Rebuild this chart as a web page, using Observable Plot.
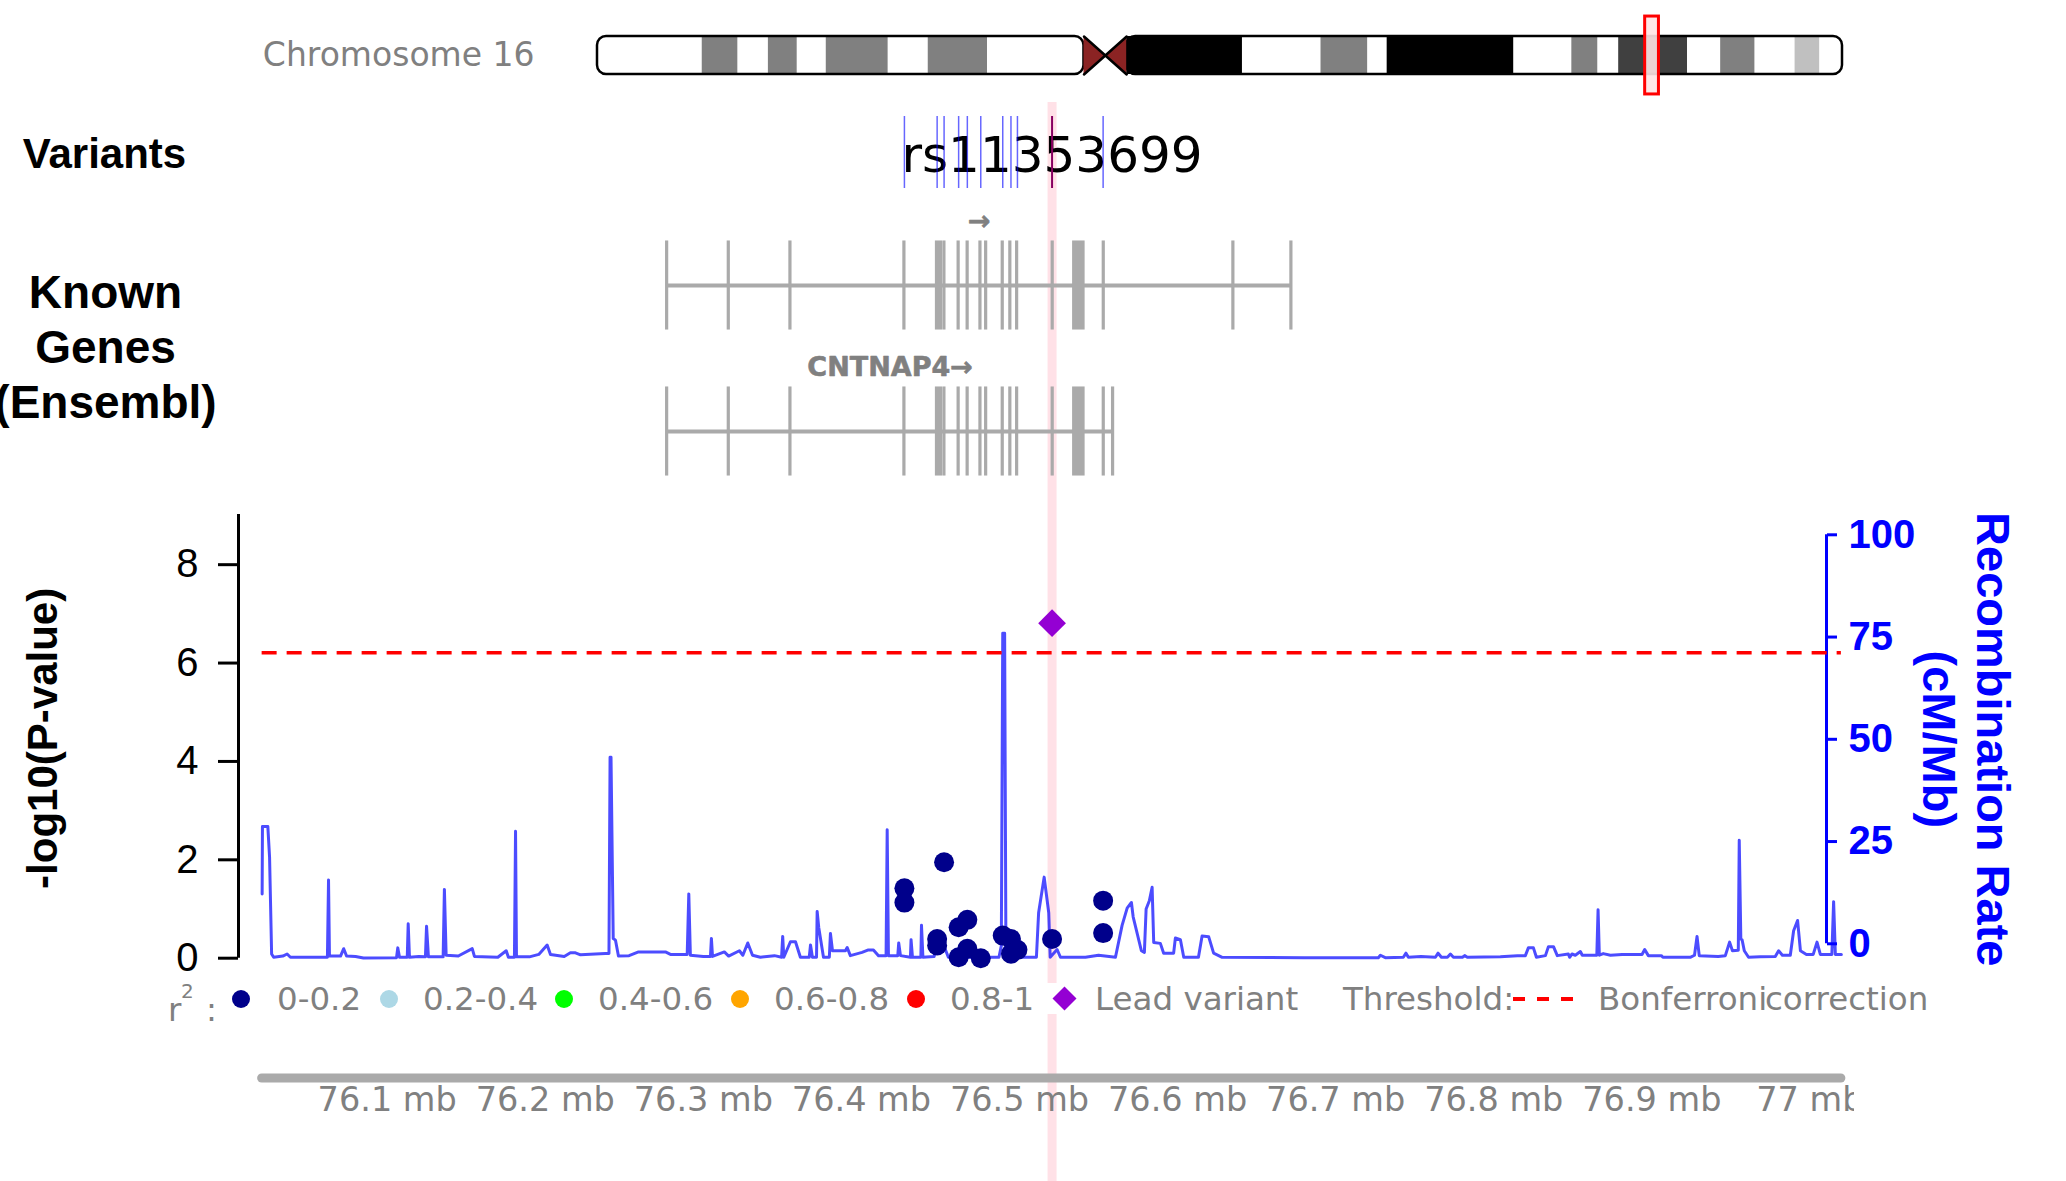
<!DOCTYPE html>
<html><head><meta charset="utf-8">
<script src="https://cdn.jsdelivr.net/npm/d3@7"></script>
<script src="https://cdn.jsdelivr.net/npm/@observablehq/plot@0.6"></script>
<style>
html,body{margin:0;padding:0;background:#fff;}
#root{position:relative;width:2066px;height:1181px;overflow:hidden;background:#fff;}
#root svg{position:absolute;left:0;top:0;}
.lg{position:absolute;font-family:"DejaVu Sans",sans-serif;font-size:32.5px;color:#808080;white-space:nowrap;line-height:32px;height:32px;top:983px;}
</style></head><body><div id="root"></div>
<script>
// ---------------- data ----------------
const chromName = "Chromosome 16";
const chromLength = 90.34;
const bandStart = [0, 7.6, 10.2, 12.4, 14.5, 16.6, 21.1, 24.0, 28.3, 35.3, 36.9, 38.4, 46.8, 52.5, 55.9, 57.3, 66.5, 70.7, 72.6, 74.1, 79.1, 81.5, 84.0, 86.9, 88.7];
const bandEnd   = [7.6, 10.2, 12.4, 14.5, 16.6, 21.1, 24.0, 28.3, 35.3, 36.9, 38.4, 46.8, 52.5, 55.9, 57.3, 66.5, 70.7, 72.6, 74.1, 79.1, 81.5, 84.0, 86.9, 88.7, 90.34];
const bandStain = ["gneg","gpos50","gneg","gpos50","gneg","gpos50","gneg","gpos50","gneg","acen","acen","gvar","gneg","gpos50","gneg","gpos100","gneg","gpos50","gneg","gpos75","gneg","gpos50","gneg","gpos25","gneg"];

const leadVariant = "rs11353699";
const leadPos = 76.5206;
const leadLogP = 6.81;
const snpPos  = [76.4272, 76.4272, 76.4523, 76.4670, 76.4615, 76.4479, 76.4479, 76.4670, 76.4615, 76.4755, 76.4894, 76.4946, 76.4987, 76.4946, 76.5206, 76.5529, 76.5529];
const snpLogP = [1.42, 1.13, 1.95, 0.78, 0.63, 0.39, 0.26, 0.19, 0.02, 0.0, 0.46, 0.39, 0.17, 0.09, 0.39, 1.17, 0.51];
const snpR2Bin = [0,0,0,0,0,0,0,0,0,0,0,0,0,0,0,0,0];
const bonferroni = 6.21;

const recombPos = [76.0209,76.0211,76.0245,76.0256,76.0269,76.0282,76.0340,76.0367,76.0388,76.0622,76.0629,76.0635,76.0705,76.0725,76.0743,76.0800,76.0850,76.1059,76.1067,76.1078,76.1127,76.1133,76.1141,76.1200,76.1242,76.1249,76.1261,76.1354,76.1362,76.1373,76.1450,76.1538,76.1552,76.1700,76.1753,76.1767,76.1805,76.1812,76.1818,76.1900,76.1959,76.2012,76.2033,76.2120,76.2159,76.2191,76.2223,76.2380,76.2403,76.2410,76.2416,76.2430,76.2444,76.2463,76.2530,76.2590,76.2760,76.2792,76.2898,76.2908,76.2918,76.3000,76.3045,76.3051,76.3058,76.3133,76.3160,76.3228,76.3250,76.3281,76.3311,76.3361,76.3450,76.3495,76.3502,76.3509,76.3551,76.3583,76.3614,76.3670,76.3678,76.3690,76.3716,76.3720,76.3730,76.3760,76.3797,76.3804,76.3817,76.3899,76.3910,76.3930,76.4004,76.4044,76.4076,76.4108,76.4156,76.4163,76.4171,76.4230,76.4236,76.4247,76.4310,76.4314,76.4323,76.4376,76.4380,76.4389,76.4460,76.4468,76.4531,76.4550,76.4870,76.4885,76.4894,76.4906,76.4914,76.4942,76.5006,76.5107,76.5121,76.5156,76.5185,76.5194,76.5238,76.5259,76.5417,76.5500,76.5607,76.5649,76.5681,76.5708,76.5719,76.5771,76.5790,76.5801,76.5822,76.5839,76.5849,76.5891,76.5912,76.5975,76.5986,76.6018,76.6039,76.6132,76.6155,76.6197,76.6228,76.6282,76.6800,76.7270,76.7283,76.7314,76.7428,76.7445,76.7460,76.7540,76.7631,76.7648,76.7669,76.7707,76.7726,76.7745,76.7802,76.7816,76.7833,76.8042,76.8150,76.8200,76.8219,76.8251,76.8270,76.8327,76.8346,76.8378,76.8402,76.8472,76.8480,76.8495,76.8516,76.8548,76.8560,76.8652,76.8660,76.8668,76.8693,76.8738,76.8812,76.8938,76.8955,76.8978,76.9060,76.9070,76.9243,76.9270,76.9286,76.9300,76.9420,76.9465,76.9492,76.9510,76.9547,76.9553,76.9563,76.9571,76.9585,76.9612,76.9686,76.9781,76.9802,76.9826,76.9876,76.9897,76.9922,76.9940,76.9978,77.0021,77.0045,77.0066,77.0139,77.0150,77.0161,77.0199];
const recombRate = [15.8,32.3,32.3,24.8,1.1,0.3,0.6,1.1,0.3,0.3,19.2,0.6,0.6,2.4,0.6,0.5,0.1,0.2,2.6,0.3,0.3,8.5,0.3,0.5,0.4,7.9,0.4,0.4,16.9,0.8,0.6,2.4,0.5,0.3,1.9,0.3,0.3,31.1,0.4,0.4,1.0,3.3,1.0,0.5,1.4,1.4,0.9,1.2,1.2,49.2,49.2,4.9,4.5,0.6,0.7,1.6,1.6,1.0,1.0,15.8,0.8,0.5,0.5,4.9,0.5,1.6,0.6,1.9,0.8,3.8,0.8,0.3,0.7,0.3,5.4,0.3,4.1,4.1,0.3,0.3,3.3,0.3,0.3,11.5,7.6,0.3,0.3,6.1,1.9,1.9,2.7,0.7,1.5,2.1,2.1,0.7,0.7,31.5,0.7,0.7,3.8,0.7,0.3,4.6,0.3,0.3,8.1,0.3,0.5,2.2,2.2,0.3,0.3,3.1,79.5,79.5,3.1,2.0,0.3,0.3,11.2,19.9,11.2,0.3,2.2,0.3,0.3,0.8,0.3,8.1,12.3,13.7,10.2,1.9,1.5,12.1,14.2,17.4,3.9,3.7,1.3,1.3,5.0,4.6,0.3,0.3,5.5,5.3,1.3,0.3,0.2,0.2,0.8,0.2,0.3,1.3,0.3,0.5,0.3,1.3,0.3,0.3,1.1,0.3,0.3,0.7,0.3,0.4,0.7,0.7,2.6,2.6,0.3,0.7,2.9,2.9,0.7,1.1,0.3,1.1,0.8,1.7,0.8,0.8,11.9,0.8,1.2,0.8,1.0,1.0,2.2,0.7,0.7,0.3,0.3,0.8,5.4,0.7,0.5,0.7,4.0,1.9,2.0,28.9,4.8,4.6,1.9,0.3,0.4,0.5,1.9,0.8,0.8,6.8,9.3,1.9,1.0,1.0,4.0,1.0,1.0,13.9,1.0,1.0];

const geneNames = ["", "CNTNAP4"];
const geneStart = [76.2771, 76.2771];
const geneEnd   = [76.6720, 76.5592];
const exonGene  = [0,0,0,0,0,0,0,0,0,0,0,0,0,0,0,0,0,0, 1,1,1,1,1,1,1,1,1,1,1,1,1,1,1,1,1];
const exonStart = [76.2771,76.3161,76.3551,76.4272,76.4478,76.4525,76.4615,76.4672,76.4753,76.4789,76.4894,76.4942,76.4985,76.5210,76.5346,76.5533,76.6353,76.6720,
                   76.2771,76.3161,76.3551,76.4272,76.4478,76.4525,76.4615,76.4672,76.4753,76.4789,76.4894,76.4942,76.4985,76.5210,76.5346,76.5533,76.5592];
const exonEnd   = [76.2771,76.3161,76.3551,76.4272,76.4503,76.4525,76.4615,76.4672,76.4753,76.4789,76.4894,76.4942,76.4985,76.5210,76.5405,76.5533,76.6353,76.6720,
                   76.2771,76.3161,76.3551,76.4272,76.4503,76.4525,76.4615,76.4672,76.4753,76.4789,76.4894,76.4942,76.4985,76.5210,76.5405,76.5533,76.5592];

const xTicks = [76.1, 76.2, 76.3, 76.4, 76.5, 76.6, 76.7, 76.8, 76.9, 77.0];
const xTickLabels = ["76.1 mb","76.2 mb","76.3 mb","76.4 mb","76.5 mb","76.6 mb","76.7 mb","76.8 mb","76.9 mb","77 mb"];
const pTicks = [0, 2, 4, 6, 8];
const rateTicks = [0, 25, 50, 75, 100];
const r2Labels = ["0-0.2", "0.2-0.4", "0.4-0.6", "0.6-0.8", "0.8-1"];
const r2Colors = ["#00008b", "#add8e6", "#00ff00", "#ffa500", "#ff0000"];

// ---------------- layout ----------------
const W = 2066, H = 1181;
const X0 = 238, X1 = 1826;
const xDomain = [76.00595, 77.0105];
const root = document.getElementById("root");
const base = {width: W, height: H, marginLeft: X0, marginRight: W - X1,
  style: {background: "transparent", fontFamily: "DejaVu Sans", overflow: "visible"}};
const xMain = {domain: xDomain, range: [X0, X1], axis: null};
function add(svg) { root.appendChild(svg); return svg; }

const recomb = recombPos.map((p, i) => ({pos: p, rate: recombRate[i]}));
const snps = snpPos.map((p, i) => ({pos: p, logp: snpLogP[i], bin: snpR2Bin[i]}));
const dataExtent = d3.extent(recombPos);

// pink highlight of lead variant
add(Plot.plot({...base, marginTop: 102, marginBottom: 0, x: xMain, y: {axis: null},
  marks: [Plot.ruleX([leadPos], {stroke: "#ffe1e7", strokeWidth: 9})]}));

// ideogram
const stainColor = {gneg: "#ffffff", gpos25: "#c0c0c0", gpos50: "#808080", gpos75: "#404040", gpos100: "#000000", gvar: "#000000", acen: "#8b2323"};
const bands = bandStart.map((s, i) => ({start: s, end: bandEnd[i], stain: bandStain[i]}));
const acen = bands.filter(d => d.stain === "acen");
const pEnd = acen[0].start, qStart = acen[acen.length - 1].end;
const arms = [{start: 0, end: pEnd}, {start: qStart, end: chromLength}];
const acenPts = [
  {band: 0, x: acen[0].start, y1: -1, y2: 1}, {band: 0, x: acen[0].end, y1: 0, y2: 0},
  {band: 1, x: acen[1].start, y1: 0, y2: 0}, {band: 1, x: acen[1].end, y1: -1, y2: 1}];
const xLines = [
  {k: 0, x: pEnd, y: 1}, {k: 0, x: qStart, y: -1},
  {k: 1, x: pEnd, y: -1}, {k: 1, x: qStart, y: 1}];
add(Plot.plot({...base, marginLeft: 597, marginRight: W - 1842, marginTop: 36, marginBottom: H - 74,
  x: {domain: [0, chromLength], range: [597, 1842], axis: null},
  y: {domain: [-1, 1], range: [74, 36], axis: null},
  marks: [
    Plot.rect(bands.filter(d => d.stain !== "acen"), {x1: "start", x2: "end", y1: -1, y2: 1, fill: d => stainColor[d.stain]}),
    Plot.rect(arms, {x1: "start", x2: "end", y1: -1, y2: 1, fill: "none", stroke: "#000", strokeWidth: 2.5, rx: 9}),
    Plot.areaY(acenPts, {x: "x", y1: "y1", y2: "y2", z: "band", fill: stainColor.acen}),
    Plot.line(xLines, {x: "x", y: "y", z: "k", stroke: "#000", strokeWidth: 2.5}),
    Plot.rect([leadPos], {x1: d => d - 0.5, x2: d => d + 0.5, y1: -2.05, y2: 2.05, fill: "#ffe4e4", fillOpacity: 0.9, stroke: "#ff0000", strokeWidth: 3}),
    Plot.text([chromName], {frameAnchor: "left", dx: -63, textAnchor: "end", fontSize: 33, fill: "#808080"})
  ]}));

// variants track
const variantLines = Array.from(new Set(snpPos)).filter(p => p !== leadPos);
add(Plot.plot({...base, marginTop: 116, marginBottom: H - 188, x: xMain,
  y: {domain: [0, 1], range: [188, 116], axis: null},
  marks: [
    Plot.text([leadVariant], {x: () => leadPos, frameAnchor: "bottom", dy: -17, lineAnchor: "bottom", fontSize: 50, fill: "#000"}),
    Plot.ruleX(variantLines, {stroke: "#0000ff", strokeOpacity: 0.6, strokeWidth: 1.5}),
    Plot.ruleX([leadPos], {stroke: "#880060", strokeWidth: 2}),
    Plot.text(["Variants"], {frameAnchor: "left", dx: -134, dy: 2, textAnchor: "middle", fontSize: 42, fontWeight: "bold", fontFamily: "Liberation Sans", fill: "#000"})
  ]}));

// genes track
const genes = geneNames.map((n, i) => ({name: n, row: i, start: geneStart[i], end: geneEnd[i]}));
const exons = exonGene.map((g, i) => ({row: g, start: exonStart[i], end: exonEnd[i]}));
add(Plot.plot({...base, marginTop: 212, marginBottom: H - 504, x: xMain,
  y: {domain: [-0.5, 1.5], range: [212, 504], axis: null},
  marks: [
    Plot.ruleY(genes, {y: "row", x1: "start", x2: "end", stroke: "#aaaaaa", strokeWidth: 4}),
    Plot.rect(exons, {x1: "start", x2: "end", y1: d => d.row - 0.305, y2: d => d.row + 0.305, fill: "#aaaaaa", insetLeft: -1.6, insetRight: -1.6}),
    Plot.text(genes, {x: d => (d.start + d.end) / 2, y: d => d.row - 0.44, text: d => d.name + "→", fill: "#808080", fontWeight: "bold", fontSize: 27, fontFamily: "DejaVu Sans", stroke: "#808080", strokeWidth: 0.6}),
    Plot.text(["Known\nGenes\n(Ensembl)"], {frameAnchor: "left", dx: -133, dy: -13, textAnchor: "middle", lineHeight: 1.2, fontSize: 46, fontWeight: "bold", fontFamily: "Liberation Sans", fill: "#000"})
  ]}));

// recombination rate line
add(Plot.plot({...base, marginTop: 549, marginBottom: H - 958, x: xMain,
  y: {domain: [0, 100], range: [958, 549], axis: null},
  marks: [Plot.line(recomb, {x: "pos", y: "rate", stroke: "#0000ff", strokeOpacity: 0.7, strokeWidth: 3, strokeLinejoin: "round"})]}));

// right axis
add(Plot.plot({...base, marginTop: 534.3, marginBottom: H - 943.3, x: xMain,
  y: {domain: [0, 100], range: [943.3, 534.3]},
  marks: [
    Plot.axisY(rateTicks, {anchor: "right", tickSize: 10, tickPadding: 12, stroke: "#0000ff", fill: "#0000ff", strokeWidth: 3, fontSize: 40, fontWeight: "bold", fontFamily: "Liberation Sans", label: null, tickFormat: d => String(d)}),
    Plot.ruleX([xDomain[1]], {y1: 0, y2: 100, stroke: "#0000ff", strokeWidth: 3}),
    Plot.text(["Recombination Rate\n(cM/Mb)"], {frameAnchor: "right", dx: 141, textAnchor: "middle", rotate: 90, lineHeight: 1.15, fontSize: 47, fontWeight: "bold", fontFamily: "Liberation Sans", fill: "#0000ff"})
  ]}));

// main association plot
add(Plot.plot({...base, marginTop: 514, marginBottom: H - 957.7, x: xMain,
  y: {domain: [0, 9.02], range: [957.7, 514]},
  color: {type: "identity"},
  marks: [
    Plot.ruleX([xDomain[0]], {stroke: "#000", strokeWidth: 3}),
    Plot.axisY(pTicks, {anchor: "left", tickSize: 20, tickPadding: 20, strokeWidth: 3, fontSize: 40, fontFamily: "Liberation Sans", label: null, tickFormat: d => String(d)}),
    Plot.ruleY([bonferroni], {x1: dataExtent[0], x2: dataExtent[1], stroke: "#ff0000", strokeWidth: 3.5, strokeDasharray: "15,10"}),
    Plot.dot(snps, {x: "pos", y: "logp", r: 10, fill: d => r2Colors[d.bin]}),
    Plot.dot([{pos: leadPos, logp: leadLogP}], {x: "pos", y: "logp", symbol: "diamond2", r: 12.5, fill: "#9400d3"}),
    Plot.text(["-log10(P-value)"], {frameAnchor: "left", dx: -195, dy: 2, textAnchor: "middle", rotate: -90, fontSize: 42, fontWeight: "bold", fontFamily: "Liberation Sans", fill: "#000"})
  ]}));

// legend (HTML)
(function legend() {
  const box = document.createElement("div");
  box.style.cssText = "position:absolute;left:160px;top:983px;width:1775px;height:31px;background:#fff;";
  root.appendChild(box);
  function txt(t, left, top, size) {
    const s = document.createElement("span");
    s.className = "lg"; s.textContent = t; s.style.left = left + "px";
    if (top != null) s.style.top = top + "px";
    if (size) s.style.fontSize = size + "px";
    root.appendChild(s); return s;
  }
  txt("r", 168, 994);
  txt("2", 181, 975, 20);
  txt(":", 206, 994);
  const dotX = [241, 389, 564, 740, 916];
  const labX = [277, 423, 598, 774, 950];
  r2Labels.forEach((l, i) => {
    const d = document.createElement("div");
    d.style.cssText = `position:absolute;left:${dotX[i] - 9}px;top:990px;width:18px;height:18px;border-radius:50%;background:${r2Colors[i]};`;
    root.appendChild(d);
    txt(l, labX[i]);
  });
  const dm = document.createElement("div");
  dm.style.cssText = "position:absolute;left:1056px;top:990px;width:17px;height:17px;background:#9400d3;transform:rotate(45deg);";
  root.appendChild(dm);
  txt("Lead variant", 1095);
  txt("Threshold:", 1343);
  const dash = document.createElement("div");
  dash.style.cssText = "position:absolute;left:1513px;top:997px;width:67px;height:4px;background:repeating-linear-gradient(90deg,#ff0000 0 12px,transparent 12px 24px);";
  root.appendChild(dash);
  txt("Bonferroni", 1598);
  txt("correction", 1765);
})();

// bottom genomic axis
add(Plot.plot({...base, width: 1854, marginRight: 1854 - X1, marginTop: 1077, marginBottom: H - 1078,
  style: {background: "transparent", fontFamily: "DejaVu Sans", overflow: "hidden"},
  x: {domain: xDomain, range: [X0, X1]},
  y: {domain: [0, 1], range: [1078, 1077], axis: null},
  marks: [
    Plot.ruleY([0.5], {x1: dataExtent[0], x2: dataExtent[1], stroke: "#aaaaaa", strokeWidth: 9, strokeLinecap: "round"}),
    Plot.axisX(xTicks, {anchor: "bottom", tickSize: 0, tickPadding: 9, fontSize: 33.5, fill: "#808080", label: null, tickFormat: (d, i) => xTickLabels[i]})
  ]}));
</script></body></html>
